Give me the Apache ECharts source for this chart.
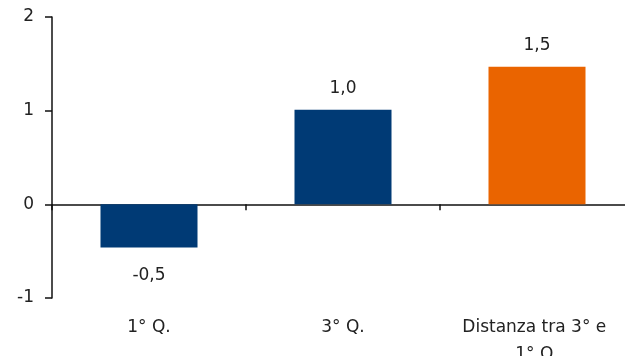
<!DOCTYPE html>
<html>
<head>
<meta charset="utf-8">
<script src="https://cdn.jsdelivr.net/npm/echarts@6/dist/echarts.min.js"></script>
<style>
html,body{margin:0;padding:0;background:#fff;}
#chart{width:625px;height:356px;}
</style>
</head>
<body>
<div id="chart"></div>
<script>
var categories = ['1° Q.', '3° Q.', 'Distanza tra 3° e 1° Q.'];
var values = [-0.46, 1.01, 1.47];
var valueLabels = ['-0,5', '1,0', '1,5'];
var yTicks = [-1, 0, 1, 2];

var barColors = ['#003a75', '#003a75', '#ea6400'];
var fontName = "'DejaVu Sans', sans-serif";

function buildData() {
	var out = [];
	for (var i = 0; i < values.length; i++) {
		out.push({
			value: values[i],
			itemStyle: { color: barColors[i] },
			label: {
				position: values[i] < 0 ? 'bottom' : 'top',
				distance: values[i] < 0 ? 20 : 13
			}
		});
	}
	return out;
}

var myChart = echarts.init(document.getElementById('chart'));
var option = {
	animation: false,
	grid: { left: 52, right: -9, top: 17, bottom: 58, containLabel: false, outerBoundsMode: 'none' },
	xAxis: [{
		type: 'category',
		data: categories,
		position: 'bottom',
		axisLine: { onZero: true, lineStyle: { color: '#111', width: 1.5 } },
		axisTick: { show: true, inside: false, length: 6, lineStyle: { color: '#111', width: 1.5 } },
		axisLabel: { show: false }
	}, {
		type: 'category',
		data: categories,
		position: 'bottom',
		axisLine: { show: false, onZero: false },
		axisTick: { show: false },
		axisLabel: {
			show: true,
			interval: 0,
			margin: 16,
			color: '#222',
			fontFamily: fontName,
			fontSize: 17,
			lineHeight: 27,
			width: 162,
			overflow: 'break'
		}
	}],
	yAxis: {
		type: 'value',
		min: yTicks[0],
		max: yTicks[yTicks.length - 1],
		interval: 1,
		splitLine: { show: false },
		axisLine: { show: true, onZero: false, lineStyle: { color: '#111', width: 1.5 } },
		axisTick: { show: true, length: 7, lineStyle: { color: '#111', width: 1.5 } },
		axisLabel: {
			margin: 18,
			color: '#222',
			fontFamily: fontName,
			fontSize: 17,
			formatter: function (v) { return String(v); }
		}
	},
	series: [{
		type: 'bar',
		xAxisIndex: 0,
		barWidth: '50%',
		data: buildData(),
		label: {
			show: true,
			color: '#222',
			fontFamily: fontName,
			fontSize: 17,
			formatter: function (p) { return valueLabels[p.dataIndex]; }
		}
	}]
};
myChart.setOption(option);
</script>
</body>
</html>
